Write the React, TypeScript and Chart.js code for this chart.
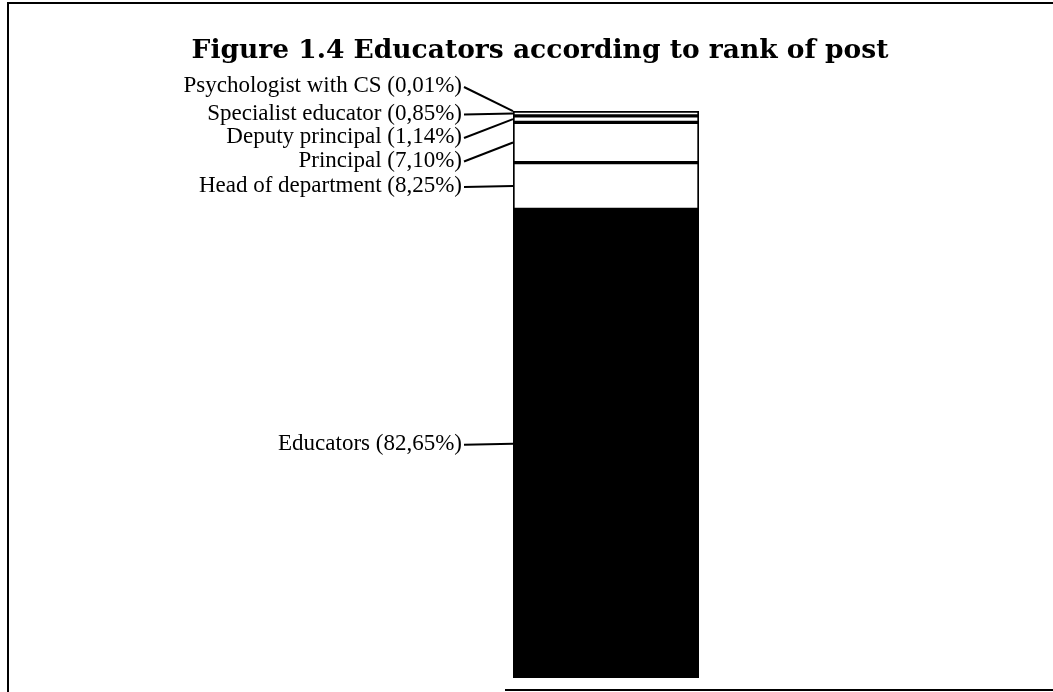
import React, { useEffect, useRef } from "react";
import { Chart, registerables } from "chart.js";

Chart.register(...registerables);

const categories = ["Rank of post"];
const seriesNames = [
  "Educators",
  "Head of department",
  "Principal",
  "Deputy principal",
  "Specialist educator",
  "Psychologist with CS",
];
const seriesValues = [82.65, 8.25, 7.1, 1.14, 0.85, 0.01];
const valueLabels = ["82,65%", "8,25%", "7,10%", "1,14%", "0,85%", "0,01%"];
const seriesFills = ["#000000", "#ffffff", "#ffffff", "#ffffff", "#ffffff", "#ffffff"];
const titleText = "Figure 1.4 Educators according to rank of post";

const annotatePlugin = {
  id: "annotate",
  afterDatasetsDraw(chart: any) {
    const ctx = chart.ctx as CanvasRenderingContext2D;
    const area = chart.chartArea;
    const W = chart.width;
    const H = chart.height;
    ctx.save();

    // frame
    ctx.strokeStyle = "#000";
    ctx.lineWidth = 2;
    ctx.beginPath();
    ctx.moveTo(7, 3);
    ctx.lineTo(W, 3);
    ctx.moveTo(8, 3);
    ctx.lineTo(8, H);
    ctx.moveTo(505, H - 2);
    ctx.lineTo(W, H - 2);
    ctx.stroke();

    // title
    ctx.fillStyle = "#000";
    ctx.font = "bold 26.5px 'DejaVu Serif'";
    ctx.textAlign = "center";
    ctx.textBaseline = "alphabetic";
    ctx.fillText(titleText, 540, 58);

    // labels with leader lines
    ctx.font = "23px 'Liberation Serif'";
    ctx.textAlign = "right";
    ctx.textBaseline = "middle";
    const spacing = 23.5;
    const labelRight = area.left - 51;
    let prev = 0;
    const last = seriesValues.length - 1;
    for (let i = last; i >= 0; i--) {
      const el = chart.getDatasetMeta(i).data[0];
      const p = el.getProps(["x", "y", "base", "width"], true);
      const mid = (p.y + p.base) / 2;
      const ly = i === last ? area.top - 25 : Math.max(mid, prev + spacing);
      prev = ly;
      const left = p.x - p.width / 2;
      ctx.fillText(`${seriesNames[i]} (${valueLabels[i]})`, labelRight, ly);
      ctx.lineWidth = 2;
      ctx.beginPath();
      ctx.moveTo(labelRight + 2, ly + 1);
      ctx.lineTo(left, mid);
      ctx.stroke();
    }
    ctx.restore();
  },
};

export default function App() {
  const canvasRef = useRef<HTMLCanvasElement | null>(null);

  useEffect(() => {
    if (!canvasRef.current) return;
    const chart = new Chart(canvasRef.current, {
      type: "bar",
      data: {
        labels: categories,
        datasets: seriesNames.map((name, i) => ({
          label: name,
          data: [seriesValues[i]],
          backgroundColor: seriesFills[i],
          borderColor: "#000000",
          borderWidth: 2,
          borderSkipped: false,
          barPercentage: 1,
          categoryPercentage: 1,
        })),
      },
      options: {
        responsive: false,
        animation: false,
        layout: { padding: { left: 513, right: 354, top: 111, bottom: 14 } },
        plugins: {
          legend: { display: false },
          tooltip: { enabled: false },
          title: { display: false },
        },
        scales: {
          x: { display: false, stacked: true },
          y: { display: false, stacked: true, min: 0, max: 100 },
        },
      },
      plugins: [annotatePlugin],
    });
    return () => chart.destroy();
  }, []);

  return (
    <div
      style={{
        position: "absolute",
        left: 0,
        top: 0,
        width: 1053,
        height: 692,
        background: "#ffffff",
      }}
    >
      <canvas ref={canvasRef} width={1053} height={692} style={{ display: "block" }} />
    </div>
  );
}
